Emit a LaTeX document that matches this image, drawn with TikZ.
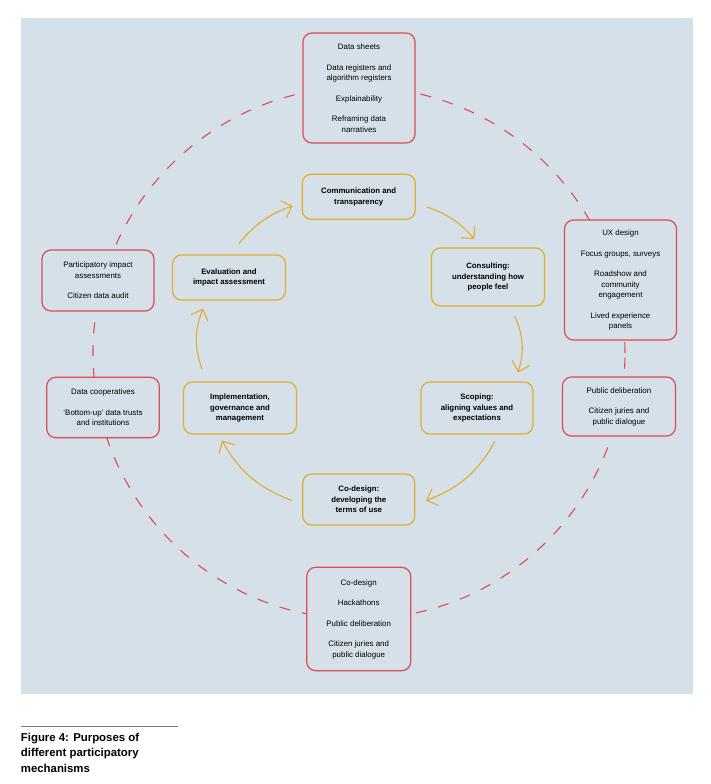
\documentclass[tikz,border=0pt]{standalone}
\usepackage{fontspec}
\setmainfont{Liberation Sans}
\usetikzlibrary{arrows.meta,positioning}
\definecolor{panel}{HTML}{D5E0E8}
\definecolor{mechred}{HTML}{E04A50}
\definecolor{stageyellow}{HTML}{E2AC2C}
\definecolor{captionrule}{HTML}{7A7A7A}
\newcommand{\itemgap}{\\[10pt]}

\begin{document}
\begin{tikzpicture}[x=1pt,y=-1pt,
        mech/.style={shape=rectangle,draw=mechred,fill=panel,line width=1.2pt,rounded corners=9pt,align=center,inner sep=2pt,font=\fontsize{7.9}{10.5}\selectfont},
        stage/.style={shape=rectangle,draw=stageyellow,fill=panel,line width=1.2pt,rounded corners=9pt,align=center,inner sep=2pt,font=\bfseries\fontsize{7.8}{10.5}\selectfont},
        flow/.style={draw=stageyellow,line width=1.1pt,-{Straight Barb[length=9pt,width=18pt]}},
        ring/.style={draw=mechred,line width=1.1pt,dash pattern=on 11pt off 12pt}]
        \useasboundingbox (0,0) rectangle (711,784);
        \fill[panel] (20.7,18) rectangle (693,694);

        % dashed ring behind the mechanisms
        \draw[ring] (359,353) circle [radius=266pt];

        % mechanisms
        \node (sheets) at (359,88) [mech,minimum width=112pt,minimum height=110pt] {Data sheets\itemgap Data registers and\\algorithm registers\itemgap Explainability\itemgap Reframing data\\narratives};
        \node (ux) at (620.5,280) [mech,minimum width=112pt,minimum height=120pt] {UX design\itemgap Focus groups, surveys\itemgap Roadshow and\\community\\engagement\itemgap Lived experience\\panels};
        \node (deliberation) at (619,406.5) [mech,minimum width=113pt,minimum height=59pt] {Public deliberation\itemgap Citizen juries and\\public dialogue};
        \node (impact) at (98,280.5) [mech,minimum width=112pt,minimum height=61pt] {Participatory impact\\assessments\itemgap Citizen data audit};
        \node (coops) at (103,407.5) [mech,minimum width=112.6pt,minimum height=60.4pt] {Data cooperatives\itemgap `Bottom-up' data trusts\\and institutions};
        \node (hack) at (358.7,619) [mech,minimum width=104pt,minimum height=103.4pt] {Co-design\itemgap Hackathons\itemgap Public deliberation\itemgap Citizen juries and\\public dialogue};

        % stages
        \node (comm) at (358.7,196.8) [stage,minimum width=113pt,minimum height=45pt] {Communication and\\transparency};
        \node (consult) at (488,277) [stage,minimum width=113pt,minimum height=58pt] {Consulting:\\understanding how\\people feel};
        \node (scope) at (477,408) [stage,minimum width=112pt,minimum height=52pt] {Scoping:\\aligning values and\\expectations};
        \node (codesign) at (358.8,499.5) [stage,minimum width=112pt,minimum height=51pt] {Co-design:\\developing the\\terms of use};
        \node (impl) at (240,408) [stage,minimum width=113pt,minimum height=52pt] {Implementation,\\governance and\\management};
        \node (eval) at (229,277.5) [stage,minimum width=113pt,minimum height=45pt] {Evaluation and\\impact assessment};

        \draw[flow] ([xshift=10pt,yshift=11pt]eval.north) to[bend left=15] ([xshift=-9pt,yshift=-9pt]comm.west);
        \draw[flow] ([xshift=10.7pt,yshift=-10pt]comm.east) to[bend left=15] ([xshift=-13.7pt,yshift=8.3pt]consult.north);
        \draw[flow] ([xshift=27pt,yshift=-10pt]consult.south) to[bend left=20] ([xshift=41pt,yshift=9pt]scope.north);
        \draw[flow] ([xshift=18pt,yshift=-6.7pt]scope.south) to[bend left=20] ([xshift=10.7pt,yshift=-1pt]codesign.east);
        \draw[flow] ([xshift=-10pt,yshift=-1pt]codesign.west) to[bend left=20] ([xshift=-18pt,yshift=-6pt]impl.south);
        \draw[flow] ([xshift=-38pt,yshift=12pt]impl.north) to[bend left=20] ([xshift=-26pt,yshift=-8pt]eval.south);

        % caption
        \draw[captionrule,line width=0.8pt] (20.7,726) -- (177.7,726);
        \node (caption) at (20.7,733) [anchor=north west,inner sep=0pt,align=left,font=\bfseries\fontsize{11.4}{15.5}\selectfont] {Figure 4: Purposes of\\different participatory\\mechanisms};
    \end{tikzpicture}
\end{document}
